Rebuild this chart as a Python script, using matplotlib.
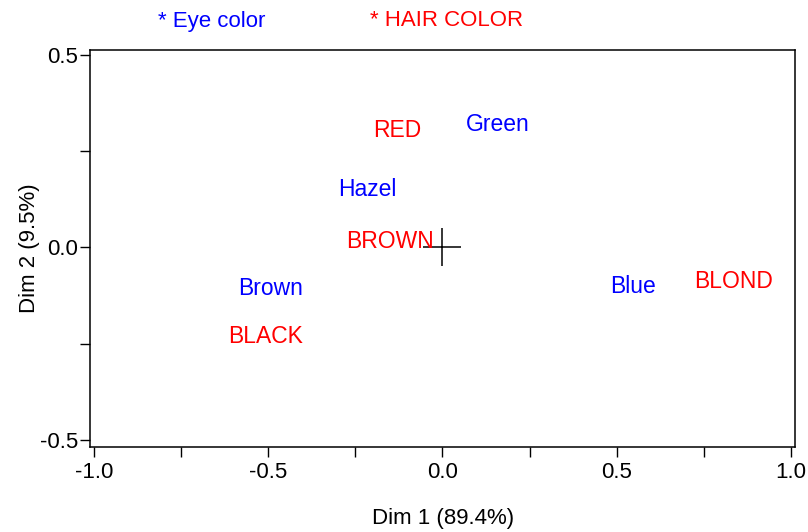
import numpy as np
import matplotlib.pyplot as plt
from matplotlib.ticker import MultipleLocator

plt.rcParams['font.family'] = ['Liberation Sans', 'DejaVu Sans']

# Coordonnées des modalités (analyse des correspondances)
eye_labels = ['Green', 'Hazel', 'Brown', 'Blue']
eye_dim1 = [0.159, -0.215, -0.493, 0.547]
eye_dim2 = [0.318, 0.150, -0.106, -0.101]

hair_labels = ['RED', 'BROWN', 'BLACK', 'BLOND']
hair_dim1 = [-0.131, -0.150, -0.507, 0.835]
hair_dim2 = [0.303, 0.014, -0.232, -0.088]

inertia = [89.4, 9.5]

fig = plt.figure(figsize=(8.08, 5.32), dpi=100)
ax = fig.add_axes([0.1114, 0.1592, 0.8729, 0.7468])

for lab, x, y in zip(eye_labels, eye_dim1, eye_dim2):
    ax.text(x, y, lab, color='blue', fontsize=16.5, ha='center', va='center')
for lab, x, y in zip(hair_labels, hair_dim1, hair_dim2):
    ax.text(x, y, lab, color='red', fontsize=16.5, ha='center', va='center')

# croix à l'origine
ax.plot(0, 0, marker='+', markersize=27, mew=1.1, color='black')

ax.set_xlim(-1.012, 1.013)
ax.set_ylim(-0.519, 0.512)
ax.xaxis.set_major_locator(MultipleLocator(0.5))
ax.xaxis.set_minor_locator(MultipleLocator(0.25))
ax.yaxis.set_major_locator(MultipleLocator(0.5))
ax.yaxis.set_minor_locator(MultipleLocator(0.25))
ax.xaxis.set_major_formatter(lambda v, p: '%.1f' % v)
ax.yaxis.set_major_formatter(lambda v, p: '%.1f' % v)
ax.tick_params(which='both', direction='out', length=7, width=1, labelsize=16)
ax.tick_params(axis='y', pad=1.5)
ax.tick_params(which='minor', labelleft=False, labelbottom=False)
for s in ax.spines.values():
    s.set_linewidth(1.1)

ax.set_xlabel('Dim 1 (%.1f%%)' % inertia[0], fontsize=16, labelpad=18)
ax.set_ylabel('Dim 2 (%.1f%%)' % inertia[1], fontsize=16, labelpad=0)

fig.text(158 / 808, 1 - 21 / 532, '* Eye color', color='blue', fontsize=16,
         ha='left', va='center')
fig.text(370 / 808, 1 - 21 / 532, '* HAIR COLOR', color='red', fontsize=16,
         ha='left', va='center')

fig.savefig('out.png', dpi=100, facecolor='white')
